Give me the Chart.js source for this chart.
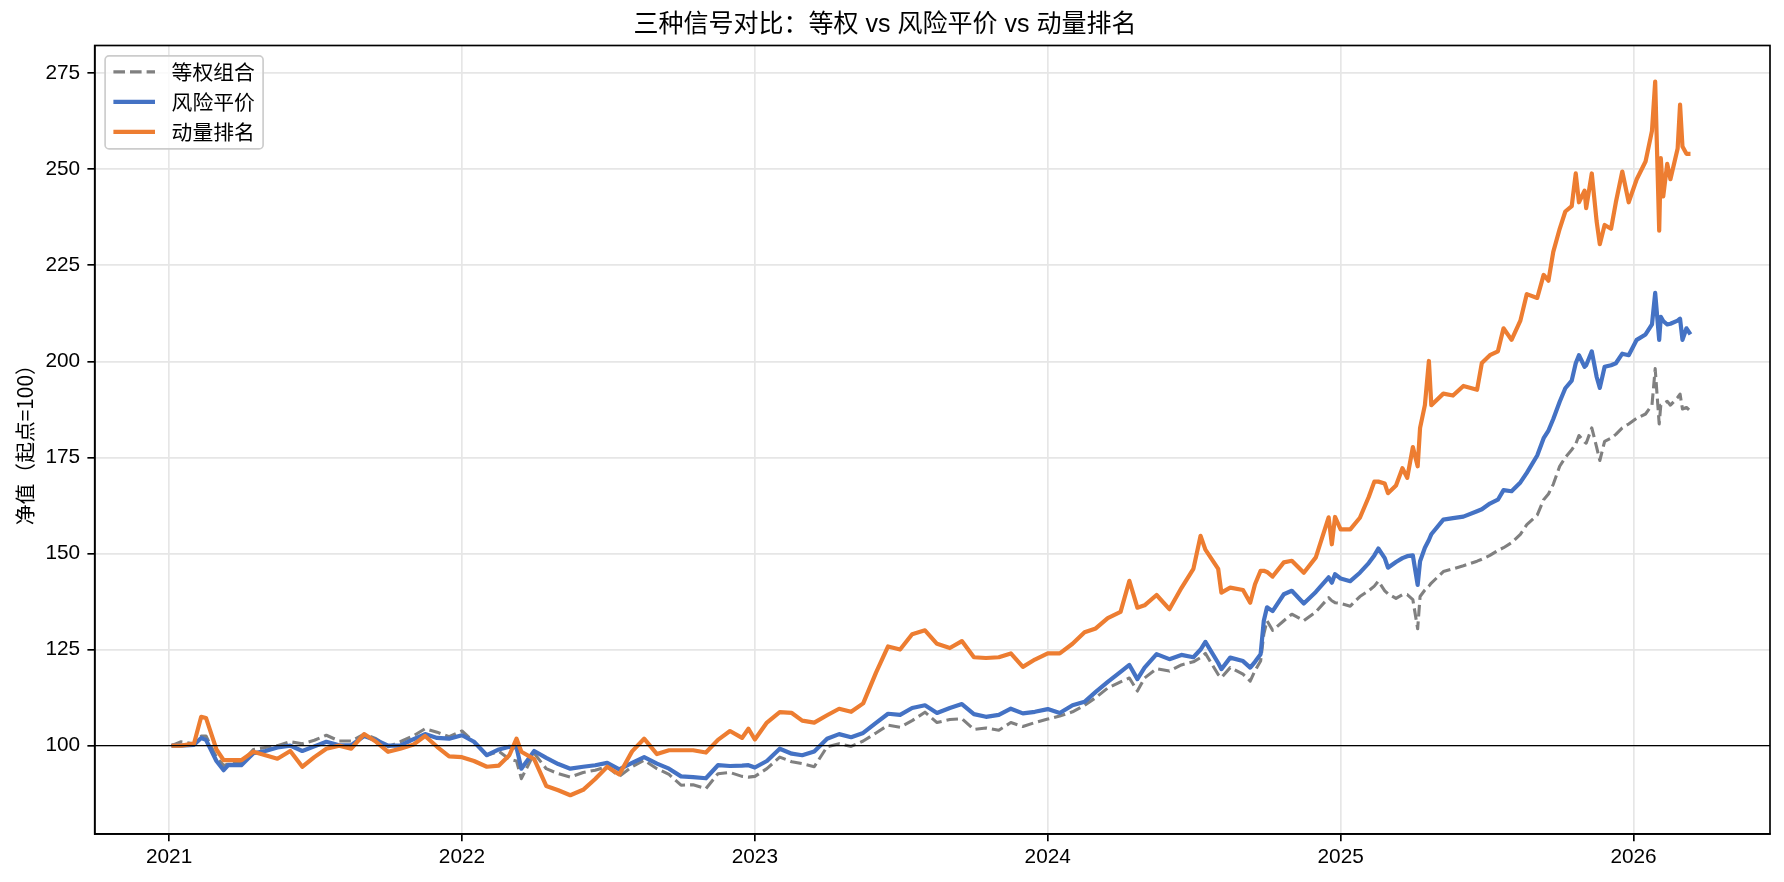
<!DOCTYPE html>
<html lang="zh-CN">
<head>
  <meta charset="UTF-8">
  <title>三种信号对比</title>
  <script src="https://cdn.jsdelivr.net/npm/chart.js"></script>
  <style>
    html, body { margin: 0; padding: 0; background: #fff; }
    canvas { display: block; }
  </style>
</head>
<body>
  <canvas id="grafico" width="1784" height="882"></canvas>

  <script>
    // dados (净值, 起点=100)
    const seriesNames = ['等权组合', '风险平价', '动量排名'];
    const yearTicks = [2021, 2022, 2023, 2024, 2025, 2026];
    const valueTicks = [100, 125, 150, 175, 200, 225, 250, 275];

    const dates = [
      '2021-01-04','2021-01-16','2021-02-01','2021-02-10','2021-02-16','2021-03-01','2021-03-10','2021-03-16','2021-04-01','2021-04-16',
      '2021-05-01','2021-05-16','2021-06-01','2021-06-16','2021-07-01','2021-07-16','2021-08-01','2021-08-16','2021-09-01','2021-09-16',
      '2021-10-01','2021-10-16','2021-11-01','2021-11-16','2021-12-01','2021-12-16',
      '2022-01-01','2022-01-16','2022-02-01','2022-02-16','2022-03-01','2022-03-10','2022-03-16','2022-04-01','2022-04-16','2022-05-01',
      '2022-05-16','2022-06-01','2022-06-16','2022-07-01','2022-07-16','2022-08-01','2022-08-16','2022-09-01','2022-09-16','2022-10-01',
      '2022-10-16','2022-11-01','2022-11-16','2022-12-01','2022-12-16','2022-12-24',
      '2023-01-01','2023-01-16','2023-02-01','2023-02-16','2023-03-01','2023-03-16','2023-04-01','2023-04-16','2023-05-01','2023-05-16',
      '2023-06-01','2023-06-16','2023-07-01','2023-07-16','2023-08-01','2023-08-16','2023-09-01','2023-09-16','2023-10-01','2023-10-16',
      '2023-11-01','2023-11-16','2023-12-01','2023-12-16',
      '2024-01-01','2024-01-16','2024-02-01','2024-02-16','2024-03-01','2024-03-16','2024-04-01','2024-04-12','2024-04-22','2024-05-01',
      '2024-05-16','2024-06-01','2024-06-16','2024-07-01','2024-07-10','2024-07-16','2024-08-01','2024-08-05','2024-08-16','2024-09-01',
      '2024-09-10','2024-09-16','2024-09-23','2024-09-27','2024-10-01','2024-10-08','2024-10-22','2024-11-01','2024-11-16','2024-12-01',
      '2024-12-17','2024-12-21','2024-12-25',
      '2025-01-01','2025-01-13','2025-01-25','2025-02-05','2025-02-12','2025-02-17','2025-02-25','2025-03-01','2025-03-11','2025-03-19',
      '2025-03-25','2025-04-01','2025-04-07','2025-04-10','2025-04-16','2025-04-21','2025-04-24','2025-05-09','2025-05-21','2025-06-03',
      '2025-06-20','2025-06-26','2025-07-06','2025-07-16','2025-07-23','2025-08-02','2025-08-13','2025-08-21','2025-09-03','2025-09-11',
      '2025-09-17','2025-09-23','2025-10-01','2025-10-08','2025-10-16','2025-10-21','2025-10-25','2025-11-01','2025-11-03','2025-11-10',
      '2025-11-16','2025-11-20','2025-11-26','2025-12-04','2025-12-10','2025-12-18','2025-12-26',
      '2026-01-05','2026-01-16','2026-01-24','2026-01-28','2026-02-02','2026-02-04','2026-02-07','2026-02-12','2026-02-16','2026-02-25',
      '2026-02-28','2026-03-03','2026-03-08','2026-03-13'
    ];

    const equalWeight = [
      100,101,100.5,102.5,102.5,97,94.8,95.3,95.5,99,
      99.5,100,101,100.5,101.4,102.7,101.2,101.2,103,101.8,
      99.7,101,102.5,104.4,103.5,102.3,
      103.8,101,97.5,98.5,96.5,96,91.4,98,94,92.7,
      91.8,93,93.6,94.5,92,94.5,96.2,94,92.5,89.7,
      89.8,88.8,92.7,93,92,91.8,
      92,94,97,95.8,95.3,94.5,99.7,100.5,99.8,101.2,
      103.3,105.3,104.8,106.5,108.7,106,106.8,107,104.2,104.6,
      104,106,105,106,
      106.9,107.7,108.8,110.5,112.5,115,116.6,117.6,114.2,117.6,
      120,119.4,121,121.8,122.9,124,118.5,117.7,120.3,118.6,
      116.8,119.5,122,129,132.5,130,132.5,134.2,132.5,134.8,
      138.5,137.7,137.2,
      137,136.3,138.8,140.3,141.5,142.8,140.3,139.5,138.3,139.3,
      139.3,138,130.4,138.8,140.5,141.5,142.3,145.3,146,146.8,
      148,148.5,149.5,150.8,151.5,152.8,155,157.5,160,164,
      165.5,168,172.7,175,177,178.5,180.7,179,178.7,182.7,
      177.7,174.2,179.2,180,181,182.7,183.7,
      185.2,186.3,188.6,198.1,183.7,188.6,189,189.6,188.6,190.6,
      191.5,187.6,188,187
    ];

    const riskParity = [
      100,100,100.2,102,101.5,96,93.6,95,94.9,98,
      98.6,99.5,100,98.6,99.8,101,100.1,100.1,102.5,101.4,
      100,100,101.6,103,102,101.8,
      102.7,101,97.5,99,99.7,99.5,94,98.6,96.8,95.2,
      94,94.5,94.9,95.5,93.8,95.5,97,95.3,94,92,
      91.8,91.5,94.9,94.7,94.8,94.9,
      94.3,96,99.2,97.9,97.5,98.5,101.8,103,102.2,103.3,
      105.9,108.3,108,109.8,110.5,108.5,109.8,110.8,108.2,107.5,
      108,109.6,108.4,108.8,
      109.5,108.5,110.5,111.4,114,116.6,119.2,121,117.3,120.3,
      123.8,122.5,123.6,123,125,127,121.5,119.9,122.9,122,
      120.3,121.8,123.8,132.5,136,135,139.4,140.3,137,140,
      143.8,142.4,144.6,
      143.5,142.8,145,147.5,149.5,151.3,148.8,146.3,147.8,148.8,
      149.3,149.5,141.8,148,151.5,153.5,155,158.8,159.2,159.6,
      161,161.5,163,164,166.5,166.2,168.5,171,175.5,180,
      182,185,189.5,193,195,199.5,201.6,198.6,199,202.6,
      196,193.1,198.6,199,199.5,202,201.6,
      205.6,207,209.6,217.8,205.6,211.6,210.5,209.6,209.8,210.6,
      211.1,205.6,208.6,207
    ];

    const momentum = [
      100,100,100.5,107.5,107.2,99,96.2,96.2,96.2,98.4,
      97.5,96.6,98.6,94.5,97,99.2,100,99.2,103,101,
      98.4,99.2,100.2,102.5,99.7,97.2,
      97,96,94.5,94.8,97.5,101.8,98.4,96.5,89.5,88.4,
      87.1,88.5,91.3,94.5,92.5,98.5,101.8,97.8,98.8,98.8,
      98.8,98.2,101.5,103.8,102,104.4,
      101.6,106,108.7,108.5,106.5,106,107.9,109.6,108.8,111,
      119,125.8,125,129,130,126.5,125.4,127.2,123,122.8,
      123,124,120.5,122.4,
      124,124,126.5,129.5,130.5,133.2,134.8,142.9,135.9,136.5,
      139.2,135.5,141,146,154.6,151,146,139.8,141.1,140.5,
      137.2,142,145.5,145.5,145.2,144,147.7,148.1,145,149,
      159.4,152.4,159.5,
      156.3,156.3,159.3,164.7,168.7,168.7,168.2,165.7,167.7,172.2,
      169.7,177.7,172.7,182.7,188.6,200.1,188.6,191.6,191.1,193.6,
      192.6,199.6,201.6,202.6,208.6,205.6,210.6,217.5,216.5,222.5,
      221,228.5,234.5,239,240.4,248.9,241.4,244.4,239.9,248.9,
      236.5,230.5,235.5,234.5,241.4,249.4,241.4,
      247.4,252,260,272.8,234,252.9,242.9,251.4,247.4,255.4,
      266.8,255.9,254,254
    ];

    // data -> ano decimal
    function anoDecimal(s) {
      const [y, m, d] = s.split('-').map(Number);
      const t = Date.UTC(y, m - 1, d), a = Date.UTC(y, 0, 1), b = Date.UTC(y + 1, 0, 1);
      return y + (t - a) / (b - a);
    }
    const pontos = arr => dates.map((d, i) => ({ x: anoDecimal(d), y: arr[i] }));

    const fonteLatina = "'Liberation Sans', 'Noto Sans CJK SC', sans-serif";
    const fonteCJK = "'Noto Sans CJK SC', 'Liberation Sans', sans-serif";
    const cores = ['#808080', '#4472C4', '#ED7D31'];

    // moldura + linha de 100
    const molduraPlugin = {
      id: 'moldura',
      afterDatasetsDraw(chart) {
        const { ctx, chartArea: a, scales } = chart;
        const y100 = scales.y.getPixelForValue(100);
        ctx.save();
        ctx.strokeStyle = '#000';
        ctx.lineWidth = 1.3;
        ctx.beginPath();
        ctx.moveTo(a.left, y100);
        ctx.lineTo(a.right, y100);
        ctx.stroke();
        ctx.lineWidth = 1.67;
        ctx.strokeRect(a.left, a.top, a.right - a.left, a.bottom - a.top);
        ctx.restore();
      }
    };

    // legenda no canto superior esquerdo
    const legendaPlugin = {
      id: 'legenda',
      afterDraw(chart) {
        const { ctx, chartArea: a } = chart;
        const x0 = a.left + 10.4, y0 = a.top + 10.4, w = 158, h = 93, r = 4;
        ctx.save();
        ctx.beginPath();
        ctx.moveTo(x0 + r, y0);
        ctx.arcTo(x0 + w, y0, x0 + w, y0 + h, r);
        ctx.arcTo(x0 + w, y0 + h, x0, y0 + h, r);
        ctx.arcTo(x0, y0 + h, x0, y0, r);
        ctx.arcTo(x0, y0, x0 + w, y0, r);
        ctx.closePath();
        ctx.fillStyle = 'rgba(255,255,255,0.8)';
        ctx.fill();
        ctx.strokeStyle = '#cccccc';
        ctx.lineWidth = 1.67;
        ctx.stroke();

        chart.data.datasets.forEach((ds, i) => {
          const cy = y0 + 16 + i * 30;
          ctx.beginPath();
          ctx.strokeStyle = ds.borderColor;
          ctx.lineWidth = ds.borderWidth;
          ctx.setLineDash(ds.borderDash || []);
          ctx.lineCap = 'butt';
          ctx.moveTo(x0 + 8.3, cy);
          ctx.lineTo(x0 + 8.3 + 41.6, cy);
          ctx.stroke();
          ctx.setLineDash([]);
          ctx.fillStyle = '#000';
          ctx.font = '20.8px ' + fonteCJK;
          ctx.textBaseline = 'middle';
          ctx.textAlign = 'left';
          ctx.fillText(ds.label, x0 + 8.3 + 41.6 + 16.6, cy);
        });
        ctx.restore();
      }
    };

    Chart.defaults.color = '#000';
    Chart.defaults.font.family = fonteLatina;

    const ctx = document.getElementById('grafico').getContext('2d');
    const grafico = new Chart(ctx, {
      type: 'line',
      data: {
        datasets: [
          { label: seriesNames[0], data: pontos(equalWeight), borderColor: cores[0], borderWidth: 3.1,
            borderDash: [11.6, 5], borderCapStyle: 'butt', order: 3 },
          { label: seriesNames[1], data: pontos(riskParity), borderColor: cores[1], borderWidth: 4.2, order: 2 },
          { label: seriesNames[2], data: pontos(momentum), borderColor: cores[2], borderWidth: 4.2, order: 1 }
        ]
      },
      options: {
        responsive: false,
        animation: false,
        events: [],
        layout: { padding: { left: 0, right: 14, top: 0, bottom: 0 } },
        elements: {
          point: { radius: 0 },
          line: { tension: 0, borderJoinStyle: 'round', fill: false }
        },
        scales: {
          x: {
            type: 'linear',
            min: 2020.746,
            max: 2026.466,
            afterBuildTicks: axis => { axis.ticks = yearTicks.map(v => ({ value: v })); },
            afterFit: axis => { axis.height = 48; },
            ticks: { color: '#000', padding: 3, font: { size: 20.8, family: fonteLatina }, callback: v => String(v), maxRotation: 0 },
            grid: { color: '#e6e6e6', lineWidth: 1.67, tickLength: 7.3, tickColor: '#000', tickWidth: 1.67 },
            border: { display: true, color: '#000', width: 1.67 }
          },
          y: {
            type: 'linear',
            min: 77.0,
            max: 282.2,
            afterBuildTicks: axis => { axis.ticks = valueTicks.map(v => ({ value: v })); },
            afterFit: axis => { axis.width = 94.7; },
            ticks: { color: '#000', padding: 7.3, font: { size: 20.8, family: fonteLatina }, callback: v => String(v) },
            grid: { color: '#e6e6e6', lineWidth: 1.67, tickLength: 7.3, tickColor: '#000', tickWidth: 1.67 },
            border: { display: true, color: '#000', width: 1.67 },
            title: {
              display: true,
              text: '净值（起点=100）',
              color: '#000',
              font: { size: 20.8, family: fonteCJK, lineHeight: 1.2 },
              padding: { top: 12.5, bottom: 0 }
            }
          }
        },
        plugins: {
          legend: { display: false },
          tooltip: { enabled: false },
          title: {
            display: true,
            text: '三种信号对比：等权 vs 风险平价 vs 动量排名',
            color: '#000',
            font: { size: 25, weight: 'normal', family: fonteLatina, lineHeight: 1.2 },
            padding: { top: 10, bottom: 5.5 }
          }
        }
      },
      plugins: [molduraPlugin, legendaPlugin]
    });
  </script>
</body>
</html>
